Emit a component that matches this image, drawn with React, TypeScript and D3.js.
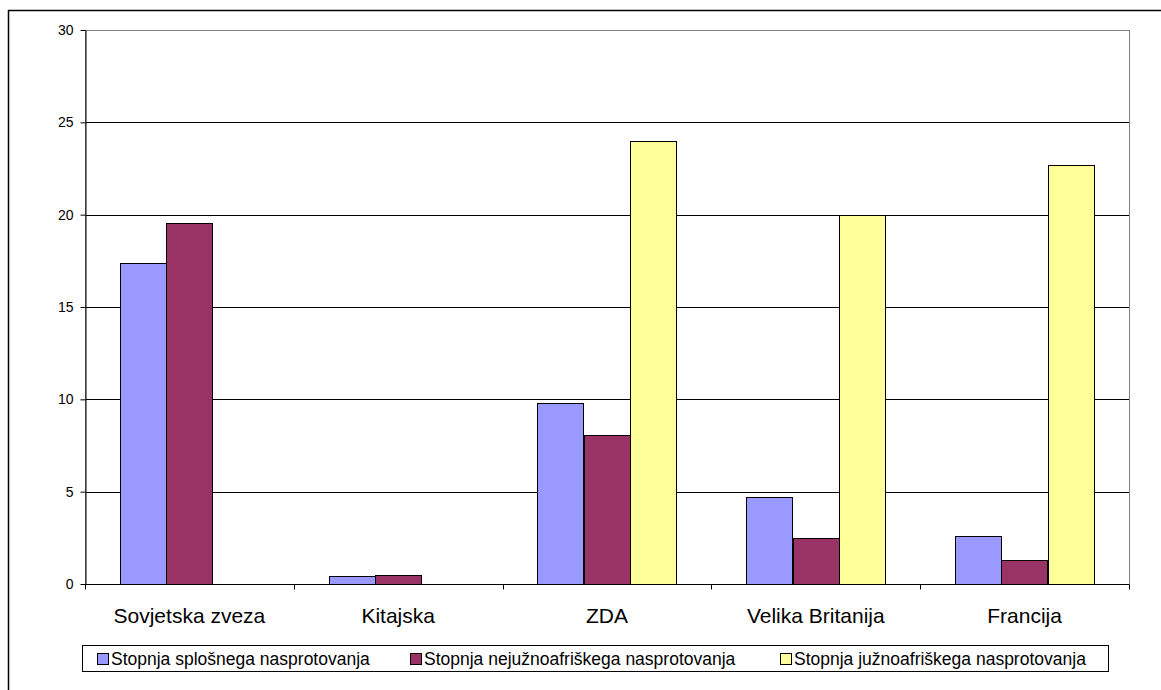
import React, { useEffect, useRef } from 'react';
import * as d3 from 'd3';

const categories = ['Sovjetska zveza', 'Kitajska', 'ZDA', 'Velika Britanija', 'Francija'];
const seriesNames = [
  'Stopnja splošnega nasprotovanja',
  'Stopnja nejužnoafriškega nasprotovanja',
  'Stopnja južnoafriškega nasprotovanja',
];
const splosno = [17.4, 0.42, 9.8, 4.7, 2.6];
const nejuzno = [19.55, 0.48, 8.05, 2.5, 1.3];
const juzno = [0, 0, 24, 20, 22.7];
const yTicks = [0, 5, 10, 15, 20, 25, 30];
const colors = ['#9999FF', '#993366', '#FFFF99'];

const FONT = 'Liberation Sans, Arial, sans-serif';

function App() {
  const svgRef = useRef<SVGSVGElement>(null);

  useEffect(() => {
    const width = 1161;
    const height = 690;
    const margin = { top: 30, right: 32, bottom: 106, left: 85 };

    const svg = d3.select(svgRef.current).attr('width', width).attr('height', height);
    svg.selectAll('*').remove();

    // outer chart border (runs off the right/bottom edge)
    svg
      .append('rect')
      .attr('x', 8.5)
      .attr('y', 10.5)
      .attr('width', width + 10)
      .attr('height', height + 10)
      .attr('fill', 'white')
      .attr('stroke', 'black')
      .attr('stroke-width', 1.5);

    const x0 = d3
      .scaleBand()
      .domain(categories)
      .range([margin.left, width - margin.right]);
    const bw = x0.bandwidth() / 4.5;

    const y = d3
      .scaleLinear()
      .domain([0, 30])
      .range([height - margin.bottom, margin.top]);

    const g = svg.append('g');

    // gridlines
    g.selectAll('.grid')
      .data(yTicks.filter((t) => t > 0 && t < 30))
      .enter()
      .append('line')
      .attr('x1', margin.left)
      .attr('x2', width - margin.right)
      .attr('y1', (d) => Math.round(y(d)) + 0.5)
      .attr('y2', (d) => Math.round(y(d)) + 0.5)
      .attr('stroke', '#000');

    // plot area border
    g.append('rect')
      .attr('x', margin.left + 0.5)
      .attr('y', margin.top + 0.5)
      .attr('width', width - margin.right - margin.left)
      .attr('height', height - margin.bottom - margin.top)
      .attr('fill', 'none')
      .attr('stroke', '#808080');

    const data = [splosno, nejuzno, juzno];
    data.forEach((vals, si) => {
      const rows = vals
        .map((v, i) => ({ cat: categories[i], v }))
        .filter((d) => d.v > 0);
      g.selectAll(`.bar${si}`)
        .data(rows)
        .enter()
        .append('rect')
        .attr('x', (d) => Math.round((x0(d.cat) as number) + 0.75 * bw + si * bw) + 0.5)
        .attr('y', (d) => Math.round(y(d.v)) + 0.5)
        .attr('width', Math.round(bw))
        .attr('height', (d) => Math.round(y(0)) - Math.round(y(d.v)))
        .attr('fill', colors[si])
        .attr('stroke', '#000')
        .attr('stroke-width', 1);
    });

    // y axis
    const yAxis = d3
      .axisLeft(y)
      .tickValues(yTicks)
      .tickSize(5)
      .tickSizeOuter(0)
      .tickFormat(d3.format('d'));
    const ya = g.append('g').attr('transform', `translate(${margin.left + 0.5},0)`).call(yAxis);
    ya.selectAll('text')
      .attr('font-family', FONT)
      .attr('font-size', 14)
      .attr('fill', '#000')
      .attr('x', -12);
    ya.selectAll('line').attr('stroke', '#000');
    ya.select('.domain').attr('stroke', '#000');

    // x axis
    const xa = g.append('g').attr('transform', `translate(0,${Math.round(y(0)) + 0.5})`);
    xa.append('line')
      .attr('x1', margin.left)
      .attr('x2', width - margin.right)
      .attr('stroke', '#000');
    const edges = categories.map((c) => x0(c) as number).concat([width - margin.right]);
    xa.selectAll('.xt')
      .data(edges)
      .enter()
      .append('line')
      .attr('x1', (d) => Math.round(d) + 0.5)
      .attr('x2', (d) => Math.round(d) + 0.5)
      .attr('y1', 0)
      .attr('y2', 5)
      .attr('stroke', '#000');
    xa.selectAll('.xl')
      .data(categories)
      .enter()
      .append('text')
      .attr('x', (d) => (x0(d) as number) + x0.bandwidth() / 2)
      .attr('y', 38)
      .attr('text-anchor', 'middle')
      .attr('font-family', FONT)
      .attr('font-size', 21)
      .attr('fill', '#000')
      .text((d) => d);

    // legend
    const lg = svg.append('g');
    lg.append('rect')
      .attr('x', 82.5)
      .attr('y', 645.5)
      .attr('width', 1026)
      .attr('height', 26)
      .attr('fill', 'white')
      .attr('stroke', '#000');
    const legendX = [97, 410, 780];
    seriesNames.forEach((name, i) => {
      lg.append('rect')
        .attr('x', legendX[i] + 0.5)
        .attr('y', 653.5)
        .attr('width', 11)
        .attr('height', 11)
        .attr('fill', colors[i])
        .attr('stroke', '#000');
      lg.append('text')
        .attr('x', legendX[i] + 14)
        .attr('y', 665)
        .attr('font-family', FONT)
        .attr('font-size', 17.5)
        .attr('fill', '#000')
        .text(name);
    });
  }, []);

  return (
    <div>
      <svg ref={svgRef} style={{ position: 'absolute', left: 0, top: 0 }}></svg>
    </div>
  );
}

export default App;
